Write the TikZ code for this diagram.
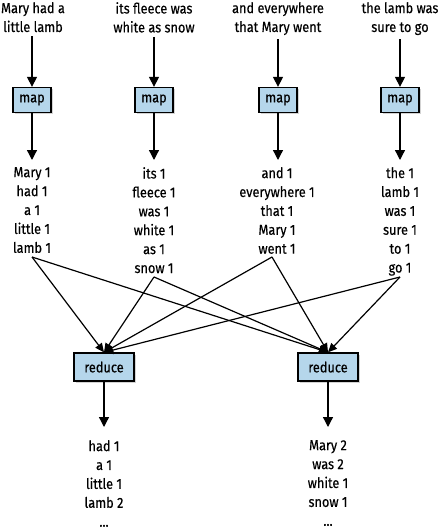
\documentclass[tikz,border=0pt]{standalone}
\usepackage{fontspec}
\setmainfont{Fira Sans}[FakeStretch=0.88,FakeBold=0.35]
\usetikzlibrary{arrows.meta,shadows}
\begin{document}
\begin{tikzpicture}[x=1pt,y=-1pt,
  every node/.style={font=\fontsize{14.5}{18.9}\selectfont},
  txt/.style={align=center,inner sep=0pt},
  proc/.style={draw=black,line width=1.3pt,fill=boxblue,inner sep=0pt,
    drop shadow={opacity=0.35,shadow xshift=1.8pt,shadow yshift=-1.8pt}},
  mapbox/.style={proc,minimum width=38pt,minimum height=25pt},
  redbox/.style={proc,minimum width=60pt,minimum height=28pt},
  arr/.style={line width=1.3pt,-{Triangle[width=10pt,length=10pt]}},
  cross/.style={line width=1.2pt,-{Triangle[width=8pt,length=9pt]}}]
\definecolor{boxblue}{HTML}{B5D6EB}
\useasboundingbox (0,0) rectangle (439,530);
% inputs
\node[txt,anchor=north] (t1) at (33,2) {Mary had a\\little lamb};
\node[txt,anchor=north] (t2) at (154,2) {its fleece was\\white as snow};
\node[txt,anchor=north] (t3) at (278,2) {and everywhere\\that Mary went};
\node[txt,anchor=north] (t4) at (400,2) {the lamb was\\sure to go};
% maps
\node[mapbox] (m1) at (32,100) {map};
\node[mapbox] (m2) at (154,100) {map};
\node[mapbox] (m3) at (278,100) {map};
\node[mapbox] (m4) at (400,100) {map};
% map outputs
\node[txt,anchor=north] (o1) at (32,167) {Mary 1\\had 1\\a 1\\little 1\\lamb 1};
\node[txt,anchor=north] (o2) at (154,167) {its 1\\fleece 1\\was 1\\white 1\\as 1\\snow 1};
\node[txt,anchor=north] (o3) at (277,167) {and 1\\everywhere 1\\that 1\\Mary 1\\went 1};
\node[txt,anchor=north] (o4) at (400,167) {the 1\\lamb 1\\was 1\\sure 1\\to 1\\go 1};
% reducers
\node[redbox] (r1) at (104,367) {reduce};
\node[redbox] (r2) at (328,367) {reduce};
% reduce outputs
\node[txt,anchor=north] (p1) at (104,440) {had 1\\a 1\\little 1\\lamb 2\\...};
\node[txt,anchor=north] (p2) at (328,440) {Mary 2\\was 2\\white 1\\snow 1\\...};
% start points of shuffle lines
\coordinate (s1) at (32,257);
\coordinate (s2) at (154,277);
\coordinate (s3) at (272,257);
\coordinate (s4) at (400,277);
% arrows
\foreach \i in {1,2,3,4}{
  \draw[arr] ([yshift=-4pt]m\i.north |- t\i.south) -- (m\i.north);
  \draw[arr] (m\i.south) -- ([yshift=7pt]m\i.south |- o\i.north);
}
\foreach \i in {1,2,3,4}{
  \draw[cross] (s\i) -- (r1.north);
  \draw[cross] (s\i) -- (r2.north);
}
\draw[arr] (r1.south) -- ([yshift=13pt]p1.north);
\draw[arr] (r2.south) -- ([yshift=13pt]p2.north);
\end{tikzpicture}
\end{document}
